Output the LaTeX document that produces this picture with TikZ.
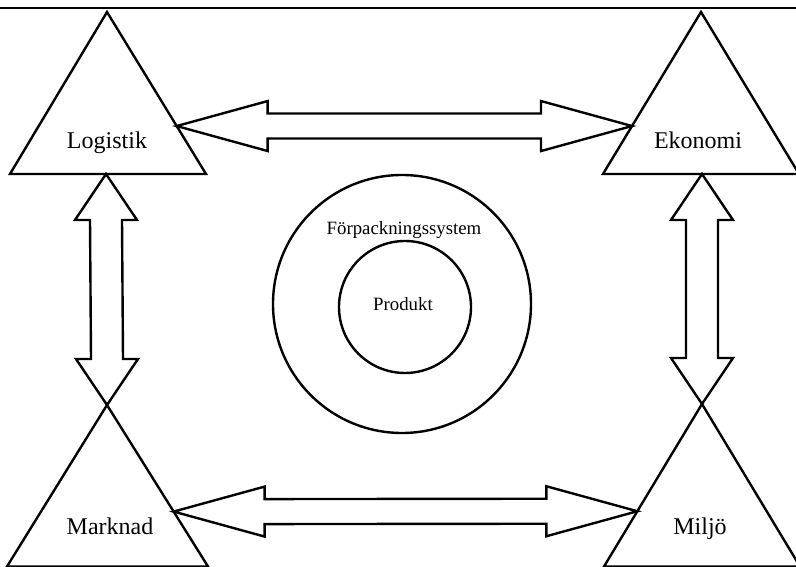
\documentclass[tikz,border=0pt]{standalone}
\usepackage{fontspec}
\setmainfont{Liberation Serif}
\usetikzlibrary{calc}

% block double arrow lying horizontally: #1 = left tip, #2 = right tip
\newcommand\wideharrow[2]{%
  \draw[outline] (#1) -- ($(#1)+(91,25)$) -- ($(#1)+(91,12.5)$)
    -- ($(#2)+(-91,12.5)$) -- ($(#2)+(-91,25)$) -- (#2)
    -- ($(#2)+(-91,-25)$) -- ($(#2)+(-91,-12.5)$)
    -- ($(#1)+(91,-12.5)$) -- ($(#1)+(91,-25)$) -- cycle;}

% block double arrow standing vertically: #1 = top tip, #2 = bottom tip
\newcommand\tallvarrow[2]{%
  \draw[outline] (#1) -- ($(#1)+(31,-46)$) -- ($(#1)+(16,-46)$)
    -- ($(#2)+(16,46)$) -- ($(#2)+(31,46)$) -- (#2)
    -- ($(#2)+(-31,46)$) -- ($(#2)+(-16,46)$)
    -- ($(#1)+(-16,-46)$) -- ($(#1)+(-31,-46)$) -- cycle;}

\begin{document}
\begin{tikzpicture}[x=1pt,y=1pt,
  outline/.style={draw=black, line width=2.4pt, line join=miter},
  bigword/.style={font=\fontsize{24}{28}\selectfont, inner sep=0pt, anchor=base},
  smallword/.style={font=\fontsize{18.8}{22}\selectfont, inner sep=0pt, anchor=base}]
\useasboundingbox (0,0) rectangle (796,567);
\clip (0,0) rectangle (796,567);

% rule across the top
\coordinate (ruleW) at (0,559);
\coordinate (ruleE) at (796,559);
\draw[line width=2pt] (ruleW) -- (ruleE);

% corner triangles
\coordinate (L-top) at (107,555); \coordinate (L-bl) at (10,393);  \coordinate (L-br) at (206,393);
\coordinate (E-top) at (701,555); \coordinate (E-bl) at (603,393); \coordinate (E-br) at (799,393);
\coordinate (M-top) at (107,162); \coordinate (M-bl) at (7,0.5);   \coordinate (M-br) at (208,0.5);
\coordinate (J-top) at (702,163); \coordinate (J-bl) at (604,0.5); \coordinate (J-br) at (800,0.5);

\draw[outline] (L-top) -- (L-bl) -- (L-br) -- cycle;
\draw[outline] (E-top) -- (E-bl) -- (E-br) -- cycle;
\draw[outline] (M-top) -- (M-bl) -- (M-br) -- cycle;
\draw[outline] (J-top) -- (J-bl) -- (J-br) -- cycle;

\node[bigword] (logistik) at (107,418) {Logistik};
\node[bigword] (ekonomi)  at (698,418) {Ekonomi};
\node[bigword] (marknad)  at (110,32)  {Marknad};
\node[bigword] (miljo)    at (700,32)  {Miljö};

% arrow tips on the triangle edges
\coordinate (L-east) at ($(L-top)!0.704!(L-br)$);
\coordinate (E-west) at ($(E-top)!0.704!(E-bl)$);
\coordinate (M-east) at ($(M-top)!0.66!(M-br)$);
\coordinate (J-west) at ($(J-top)!0.66!(J-bl)$);
\coordinate (L-south) at (106,393);
\coordinate (E-south) at (702,393);

\wideharrow{L-east}{E-west}
\wideharrow{M-east}{J-west}
\tallvarrow{L-south}{M-top}
\tallvarrow{E-south}{J-top}

% packaging system around the product
\node[outline, circle, minimum size=258pt, inner sep=0pt] (system) at (402,263) {};
\node[outline, circle, minimum size=132pt, inner sep=0pt] (product) at (405,260) {};
\node[smallword] (systemlabel)  at (404,332) {Förpackningssystem};
\node[smallword] (productlabel) at (403,256) {Produkt};
\end{tikzpicture}
\end{document}
